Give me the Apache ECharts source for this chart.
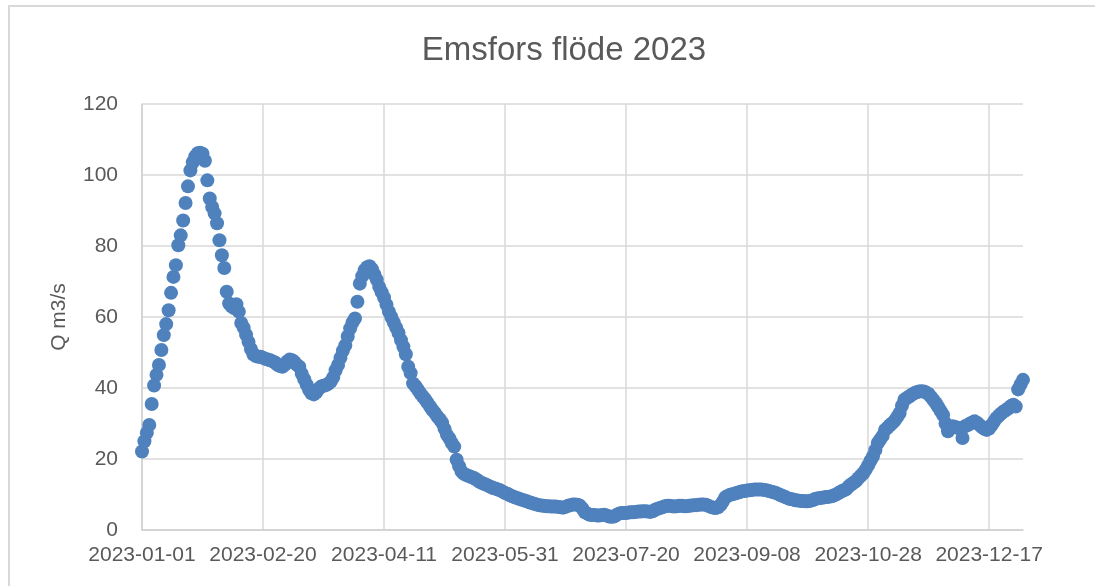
<!DOCTYPE html>
<html>
<head>
<meta charset="utf-8">
<script src="https://cdn.jsdelivr.net/npm/echarts@6/dist/echarts.min.js"></script>
<style>
html,body{margin:0;padding:0;background:#fff;}
#chart{width:1095px;height:586px;}
</style>
</head>
<body>
<div id="chart"></div>
<script>
// Daily flow Q (m3/s), day index 0 = 2023-01-01
const startDate = '2023-01-01';
const flow = [
22.1,25.0,27.4,29.6,35.5,40.7,43.7,46.5,50.7,54.9,
58.0,61.9,66.8,71.3,74.6,80.2,83.0,87.2,92.1,96.8,
101.3,103.6,105.2,106.1,106.3,106.0,104.0,98.5,93.4,91.0,
89.2,86.4,81.6,77.4,73.8,67.1,63.8,63.0,62.5,63.6,
61.5,58.3,57.0,55.0,53.0,51.0,49.5,49.0,48.8,48.8,
48.5,48.2,48.0,47.8,47.5,47.2,46.5,46.2,46.0,46.5,
47.5,48.0,47.8,47.3,46.5,46.0,44.0,42.5,41.0,39.5,
38.5,38.2,38.8,39.8,40.4,40.6,40.8,41.2,41.8,43.0,
45.0,46.5,48.5,50.5,52.0,54.5,56.8,58.5,59.6,64.3,
69.4,71.5,73.2,74.0,74.3,73.5,72.0,70.5,68.5,67.0,
65.5,63.5,61.5,60.0,58.5,57.0,55.5,53.5,51.6,49.5,
46.0,44.2,41.3,40.5,39.5,38.5,37.6,36.8,35.8,34.8,
33.8,33.0,32.0,31.2,30.2,28.5,26.8,25.8,24.5,23.5,
19.8,18.0,16.5,15.8,15.5,15.2,14.9,14.7,14.3,13.8,
13.4,13.1,12.8,12.5,12.2,11.8,11.7,11.4,11.2,10.8,
10.4,10.2,9.8,9.5,9.2,9.0,8.7,8.5,8.3,8.1,
7.8,7.6,7.4,7.2,7.0,6.9,6.8,6.7,6.7,6.6,
6.6,6.6,6.5,6.4,6.3,6.5,6.8,7.0,7.2,7.2,
7.1,6.8,6.0,5.0,4.6,4.3,4.2,4.2,4.1,4.1,
4.2,4.3,4.1,3.8,3.7,3.8,4.2,4.6,4.8,4.8,
4.8,4.9,5.0,5.0,5.1,5.2,5.2,5.3,5.3,5.2,
5.1,5.3,5.7,6.0,6.2,6.4,6.7,6.8,6.8,6.7,
6.6,6.7,6.8,6.8,6.7,6.7,6.8,6.9,7.0,7.0,
7.1,7.2,7.2,7.1,6.8,6.5,6.3,6.2,6.4,7.0,
8.0,9.2,9.6,9.9,10.1,10.3,10.5,10.7,10.9,11.0,
11.1,11.2,11.3,11.4,11.4,11.4,11.4,11.3,11.2,11.0,
10.8,10.6,10.4,10.1,9.8,9.5,9.2,8.9,8.7,8.6,
8.4,8.3,8.2,8.2,8.1,8.1,8.2,8.4,8.7,8.9,
9.0,9.1,9.2,9.3,9.4,9.5,9.8,10.1,10.5,10.9,
11.2,11.5,12.3,12.8,13.3,13.8,14.6,15.3,16.0,17.0,
18.2,19.5,20.7,22.5,24.5,25.5,26.5,28.2,28.8,29.5,
30.1,30.8,31.8,32.9,35.0,36.7,37.2,37.6,38.1,38.5,
38.8,39.0,39.1,39.0,38.7,38.3,37.5,36.6,35.7,34.6,
33.5,32.4,30.0,27.8,28.6,29.2,29.0,28.8,28.5,25.9,
29.2,29.5,29.9,30.3,30.6,30.2,29.6,29.0,28.5,28.2,
28.6,29.5,30.5,31.5,32.2,32.8,33.4,33.8,34.3,34.9,
35.3,34.8,39.6,41.0,42.3
];
// X tick labels every 50 days
const xTickLabels = ['2023-01-01','2023-02-20','2023-04-11','2023-05-31','2023-07-20','2023-09-08','2023-10-28','2023-12-17'];
const yTicks = [0,20,40,60,80,100,120];

const points = flow.map((v, i) => [i, v]);
const font = 'Liberation Sans, Arial, sans-serif';

const chart = echarts.init(document.getElementById('chart'));
chart.setOption({
  animation: false,
  backgroundColor: '#ffffff',
  title: {
    text: 'Emsfors flöde 2023',
    left: 559,
    top: 29,
    textAlign: 'center',
    textStyle: { fontFamily: font, fontSize: 33, fontWeight: 'normal', color: '#595959' }
  },
  graphic: [{
    type: 'rect',
    shape: { x: 9, y: 6, width: 1200, height: 700 },
    style: { fill: 'none', stroke: '#d9d9d9', lineWidth: 2 },
    silent: true
  }],
  grid: { left: 142, right: 72, top: 104, bottom: 56 },
  xAxis: {
    type: 'value',
    min: 0,
    max: flow.length - 1,
    interval: 50,
    axisLine: { show: true, lineStyle: { color: '#d0d0d0', width: 1.5 } },
    axisTick: { show: false },
    splitLine: { show: true, showMaxLine: false, lineStyle: { color: '#d9d9d9', width: 1.5 } },
    axisLabel: {
      showMaxLabel: false,
      margin: 15,
      fontFamily: font, fontSize: 21, color: '#595959',
      formatter: v => xTickLabels[Math.round(v / 50)] || ''
    }
  },
  yAxis: {
    type: 'value',
    min: yTicks[0],
    max: yTicks[yTicks.length - 1],
    interval: 20,
    name: 'Q m3/s',
    nameLocation: 'middle',
    nameGap: 72,
    nameTextStyle: { fontFamily: font, fontSize: 21, color: '#595959' },
    axisLine: { show: true, lineStyle: { color: '#d0d0d0', width: 1.5 } },
    axisTick: { show: false },
    splitLine: { show: true, lineStyle: { color: '#d9d9d9', width: 1.5 } },
    axisLabel: { margin: 24, fontFamily: font, fontSize: 21, color: '#595959' }
  },
  series: [{
    type: 'scatter',
    data: points,
    symbol: 'circle',
    symbolSize: 14,
    itemStyle: { color: '#4f81bd', opacity: 1 }
  }]
});
</script>
</body>
</html>
